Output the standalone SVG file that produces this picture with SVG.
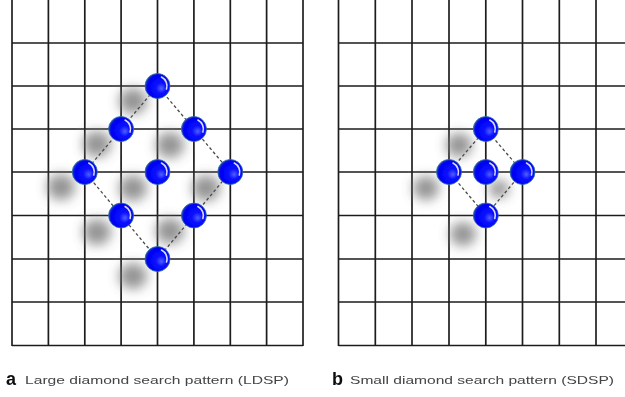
<svg xmlns="http://www.w3.org/2000/svg" width="625" height="397" viewBox="0 0 625 397">
  <defs>
    <radialGradient id="ball" cx="0.6" cy="0.55" r="0.6" fx="0.66" fy="0.6">
      <stop offset="0" stop-color="#5060ff"/>
      <stop offset="0.35" stop-color="#0a10ff"/>
      <stop offset="0.85" stop-color="#0000f2"/>
      <stop offset="1" stop-color="#1f45b5"/>
    </radialGradient>
    <filter id="blur" x="-1" y="-1" width="3" height="3">
      <feGaussianBlur stdDeviation="6"/>
    </filter>
    <filter id="soft" x="-0.05" y="-0.05" width="1.1" height="1.1">
      <feGaussianBlur stdDeviation="0.5"/>
    </filter>
  </defs>
  <style>
    .grid line { stroke: #1e1e1e; stroke-width: 1.7; }
    .link { fill: none; stroke: #4a4a4a; stroke-width: 1.3; stroke-dasharray: 3 2.5; }
    .shadow { fill: #7a7a7a; opacity: 0.8; filter: url(#blur); }
    .node circle.b { fill: url(#ball); stroke: #2c6fa0; stroke-width: 0.8; }
    .node path.hl { fill: none; stroke: #ffffff; stroke-width: 1.6; stroke-linecap: round; opacity: 0.85; }
    .cap { font-family: "Liberation Sans", Arial, sans-serif; font-size: 11px; fill: #444; }
    .tag { font-family: "Liberation Sans", Arial, sans-serif; font-size: 18px; font-weight: bold; fill: #111; }
  </style>
  <rect width="625" height="397" fill="#ffffff"/>

  <g filter="url(#soft)">
    <!-- left grid -->
    <g class="grid" id="grid-a">
      <line x1="12" y1="0" x2="12" y2="346"/>
      <line x1="48.4" y1="0" x2="48.4" y2="346"/>
      <line x1="84.8" y1="0" x2="84.8" y2="346"/>
      <line x1="121.1" y1="0" x2="121.1" y2="346"/>
      <line x1="157.5" y1="0" x2="157.5" y2="346"/>
      <line x1="193.9" y1="0" x2="193.9" y2="346"/>
      <line x1="230.3" y1="0" x2="230.3" y2="346"/>
      <line x1="266.6" y1="0" x2="266.6" y2="346"/>
      <line x1="303" y1="0" x2="303" y2="346"/>
      <line x1="12" y1="43" x2="303" y2="43"/>
      <line x1="12" y1="86" x2="303" y2="86"/>
      <line x1="12" y1="129" x2="303" y2="129"/>
      <line x1="12" y1="172" x2="303" y2="172"/>
      <line x1="12" y1="215.5" x2="303" y2="215.5"/>
      <line x1="12" y1="259" x2="303" y2="259"/>
      <line x1="12" y1="302" x2="303" y2="302"/>
      <line x1="12" y1="345.5" x2="303" y2="345.5"/>
    </g>
    <!-- right grid -->
    <g class="grid" id="grid-b">
      <line x1="338.5" y1="0" x2="338.5" y2="346"/>
      <line x1="375.3" y1="0" x2="375.3" y2="346"/>
      <line x1="412" y1="0" x2="412" y2="346"/>
      <line x1="449" y1="0" x2="449" y2="346"/>
      <line x1="485.8" y1="0" x2="485.8" y2="346"/>
      <line x1="522.5" y1="0" x2="522.5" y2="346"/>
      <line x1="559.3" y1="0" x2="559.3" y2="346"/>
      <line x1="596" y1="0" x2="596" y2="346"/>
      <line x1="338.5" y1="43" x2="625" y2="43"/>
      <line x1="338.5" y1="86" x2="625" y2="86"/>
      <line x1="338.5" y1="129" x2="625" y2="129"/>
      <line x1="338.5" y1="172" x2="625" y2="172"/>
      <line x1="338.5" y1="215.5" x2="625" y2="215.5"/>
      <line x1="338.5" y1="259" x2="625" y2="259"/>
      <line x1="338.5" y1="302" x2="625" y2="302"/>
      <line x1="338.5" y1="345.5" x2="625" y2="345.5"/>
    </g>

    <!-- cast shadows of the search points -->
    <g id="shadows">
      <ellipse class="shadow" cx="133" cy="101" rx="14" ry="13"/>
      <ellipse class="shadow" cx="97" cy="144" rx="14" ry="13"/>
      <ellipse class="shadow" cx="170" cy="145" rx="14" ry="13"/>
      <ellipse class="shadow" cx="61" cy="187" rx="14" ry="13"/>
      <ellipse class="shadow" cx="133" cy="188" rx="14" ry="13"/>
      <ellipse class="shadow" cx="206" cy="188" rx="14" ry="13"/>
      <ellipse class="shadow" cx="97" cy="232" rx="14" ry="13"/>
      <ellipse class="shadow" cx="170" cy="231" rx="14" ry="13"/>
      <ellipse class="shadow" cx="133" cy="276" rx="14" ry="13"/>

      <ellipse class="shadow" cx="459" cy="145" rx="13" ry="12"/>
      <ellipse class="shadow" cx="426" cy="188" rx="13" ry="12"/>
      <ellipse class="shadow" cx="499" cy="189" rx="10" ry="9"/>
      <ellipse class="shadow" cx="463" cy="234" rx="13" ry="12"/>
    </g>

    <!-- connectors -->
    <g id="connectors">
      <path class="link" d="M157.5,86 L84.8,172 L157.5,259 L230.3,172 Z"/>
      <path class="link" d="M485.8,129 L449,172 L485.8,215.5 L522.5,172 Z"/>
    </g>

    <!-- LDSP search points -->
    <g class="node" id="a-top" transform="translate(157.5,86)"><circle class="b" r="12.5"/><path class="hl" d="M4,-9 A10,10 0 0 1 9,3"/></g>
    <g class="node" id="a-upleft" transform="translate(121.1,129)"><circle class="b" r="12.5"/><path class="hl" d="M4,-9 A10,10 0 0 1 9,3"/></g>
    <g class="node" id="a-upright" transform="translate(193.9,129)"><circle class="b" r="12.5"/><path class="hl" d="M4,-9 A10,10 0 0 1 9,3"/></g>
    <g class="node" id="a-left" transform="translate(84.8,172)"><circle class="b" r="12.5"/><path class="hl" d="M4,-9 A10,10 0 0 1 9,3"/></g>
    <g class="node" id="a-center" transform="translate(157.5,172)"><circle class="b" r="12.5"/><path class="hl" d="M4,-9 A10,10 0 0 1 9,3"/></g>
    <g class="node" id="a-right" transform="translate(230.3,172)"><circle class="b" r="12.5"/><path class="hl" d="M4,-9 A10,10 0 0 1 9,3"/></g>
    <g class="node" id="a-lowleft" transform="translate(121.1,215.5)"><circle class="b" r="12.5"/><path class="hl" d="M4,-9 A10,10 0 0 1 9,3"/></g>
    <g class="node" id="a-lowright" transform="translate(193.9,215.5)"><circle class="b" r="12.5"/><path class="hl" d="M4,-9 A10,10 0 0 1 9,3"/></g>
    <g class="node" id="a-bottom" transform="translate(157.5,259)"><circle class="b" r="12.5"/><path class="hl" d="M4,-9 A10,10 0 0 1 9,3"/></g>

    <!-- SDSP search points -->
    <g class="node" id="b-top" transform="translate(485.8,129)"><circle class="b" r="12.5"/><path class="hl" d="M4,-9 A10,10 0 0 1 9,3"/></g>
    <g class="node" id="b-left" transform="translate(449,172)"><circle class="b" r="12.5"/><path class="hl" d="M4,-9 A10,10 0 0 1 9,3"/></g>
    <g class="node" id="b-center" transform="translate(485.8,172)"><circle class="b" r="12.5"/><path class="hl" d="M4,-9 A10,10 0 0 1 9,3"/></g>
    <g class="node" id="b-right" transform="translate(522.5,172)"><circle class="b" r="12.5"/><path class="hl" d="M4,-9 A10,10 0 0 1 9,3"/></g>
    <g class="node" id="b-bottom" transform="translate(485.8,215.5)"><circle class="b" r="12.5"/><path class="hl" d="M4,-9 A10,10 0 0 1 9,3"/></g>

    <!-- captions -->
    <text class="tag" x="6" y="385">a</text>
    <text class="cap" x="25" y="384" textLength="264" lengthAdjust="spacingAndGlyphs">Large diamond search pattern (LDSP)</text>
    <text class="tag" x="332" y="385">b</text>
    <text class="cap" x="350" y="384" textLength="264" lengthAdjust="spacingAndGlyphs">Small diamond search pattern (SDSP)</text>
  </g>
</svg>
